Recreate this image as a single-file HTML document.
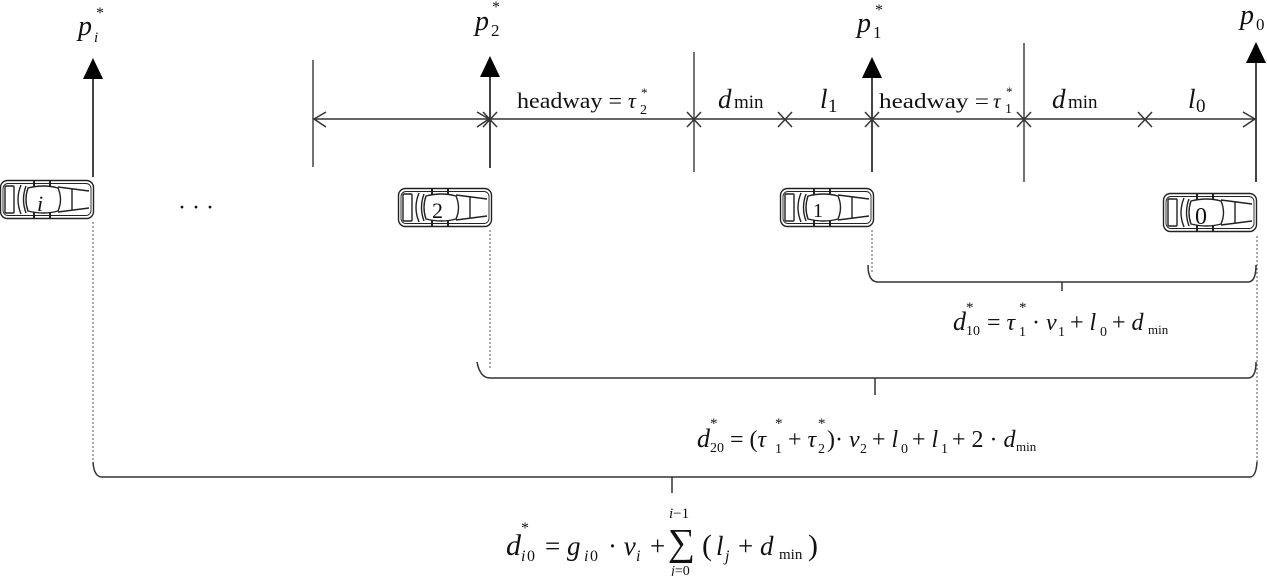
<!DOCTYPE html>
<html><head><meta charset="utf-8"><style>
html,body{margin:0;padding:0;background:#fff;}
svg{display:block;}
text{font-family:"Liberation Serif",serif;fill:#111;}
.it{font-style:italic;}
</style></head><body>
<svg width="1267" height="576" viewBox="0 0 1267 576" xmlns="http://www.w3.org/2000/svg">
<defs>
<g id="car" fill="none" stroke="#222" stroke-width="1.4">
  <rect x="0.5" y="0.5" width="93" height="38" rx="7"/>
  <rect x="3" y="3.5" width="88" height="32" rx="5" stroke-width="0.9"/>
  <rect x="5" y="6" width="9" height="27" rx="1"/>
  <path d="M21 5 Q15 19.5 21 34"/>
  <path d="M26 6 Q21 19.5 26 33"/>
  <path d="M28 8 Q44 4 58 8 Q63 19.5 58 31 Q44 35 28 31 Q24 19.5 28 8Z"/>
  <path d="M58 7 L89 11 M58 32 L89 28 M72 9 L72 30"/>
  <path d="M34 1 L34 7 M50 1 L50 7 M34 32 L34 38 M50 32 L50 38" stroke-width="2"/>
</g>
</defs>

<g stroke="#444" stroke-width="2" fill="none">
  <line x1="93" y1="78" x2="93" y2="177"/>
  <line x1="490" y1="76" x2="490" y2="168"/>
  <line x1="872" y1="76" x2="872" y2="172"/>
  <line x1="1256" y1="62" x2="1256" y2="182"/>
</g>
<g fill="#000">
  <polygon points="93,58 83,79 103,79"/>
  <polygon points="490,56 480,77 500,77"/>
  <polygon points="872,57 862,78 882,78"/>
  <polygon points="1256,42 1246,63 1266,63"/>
</g>

<g stroke="#444" stroke-width="1.5">
  <line x1="313" y1="60" x2="313" y2="167"/>
  <line x1="694" y1="52" x2="694" y2="172"/>
  <line x1="1024" y1="43" x2="1024" y2="182"/>
</g>

<g stroke="#333" stroke-width="1.5" fill="none">
  <line x1="313" y1="119" x2="1256" y2="119"/>
  <path d="M326 112 L314 119 L326 127"/>
  <path d="M477 112 L489 119 L477 127"/>
  <path d="M1243 112 L1255 119 L1243 127"/>
  <path d="M483 112 L497 127 M497 112 L483 127"/>
  <path d="M687 112 L701 127 M701 112 L687 127"/>
  <path d="M778 112 L792 127 M792 112 L778 127"/>
  <path d="M865 112 L879 127 M879 112 L865 127"/>
  <path d="M1017 112 L1031 127 M1031 112 L1017 127"/>
  <path d="M1138 112 L1152 127 M1152 112 L1138 127"/>
</g>

<text x="78" y="35" font-size="28" class="it">p</text><text x="94" y="42" font-size="15" class="it">i</text><text x="96" y="18" font-size="16">*</text>
<text x="475" y="30" font-size="28" class="it">p</text><text x="491" y="36" font-size="17">2</text><text x="492" y="12" font-size="16">*</text>
<text x="857" y="32" font-size="28" class="it">p</text><text x="873" y="38" font-size="17">1</text><text x="875" y="15" font-size="16">*</text>
<text x="1240" y="24" font-size="28" class="it">p</text><text x="1256" y="30" font-size="17">0</text>

<text x="517" y="108" font-size="22" textLength="105" lengthAdjust="spacingAndGlyphs">headway =</text>
<text x="628" y="108" font-size="22" class="it">τ</text><text x="640" y="114" font-size="14">2</text><text x="641" y="97" font-size="13">*</text>
<text x="718" y="108" font-size="27" class="it">d</text><text x="734" y="108" font-size="19">min</text>
<text x="820" y="108" font-size="27" class="it">l</text><text x="828" y="112" font-size="19">1</text>
<text x="879" y="108" font-size="21" textLength="110" lengthAdjust="spacingAndGlyphs">headway =</text>
<text x="993" y="108" font-size="21" class="it">τ</text><text x="1005" y="113" font-size="14">1</text><text x="1006" y="96" font-size="13">*</text>
<text x="1052" y="108" font-size="27" class="it">d</text><text x="1068" y="108" font-size="19">min</text>
<text x="1188" y="108" font-size="27" class="it">l</text><text x="1196" y="112" font-size="19">0</text>

<use href="#car" transform="translate(0,180)"/>
<use href="#car" transform="translate(398,188)"/>
<use href="#car" transform="translate(780,188)"/>
<use href="#car" transform="translate(1163,193)"/>
<text x="37" y="211" font-size="22" class="it" fill="#124">i</text>
<text x="432" y="218" font-size="22">2</text>
<text x="813" y="217" font-size="20">1</text>
<text x="1195" y="224" font-size="24">0</text>
<text x="178" y="215" font-size="24">· · ·</text>

<g stroke="#555" stroke-width="1" stroke-dasharray="2,2">
  <line x1="93" y1="222" x2="93" y2="465"/>
  <line x1="490" y1="230" x2="490" y2="368"/>
  <line x1="872" y1="230" x2="872" y2="272"/>
  <line x1="1257" y1="236" x2="1257" y2="465"/>
</g>

<g stroke="#333" stroke-width="1.5" fill="none">
  <path d="M868 265 Q868 282 878 282 L1248 282 Q1256 282 1256 265"/>
  <line x1="1062" y1="282" x2="1062" y2="291"/>
  <path d="M477 362 Q480 378 490 378 L1248 378 Q1256 378 1256 362"/>
  <line x1="875" y1="378" x2="875" y2="395"/>
  <path d="M93 462 Q94 477 102 477 L1250 477 Q1256 477 1257 462"/>
  <line x1="672" y1="477" x2="672" y2="493"/>
</g>

<text x="953" y="330" font-size="26" class="it">d</text><text x="966" y="312" font-size="15">*</text><text x="966" y="335" font-size="14">10</text>
<text x="987" y="330" font-size="24">= <tspan class="it">τ</tspan></text><text x="1019" y="336" font-size="14">1</text><text x="1019" y="312" font-size="15">*</text>
<text x="1032" y="330" font-size="24">· <tspan class="it">v</tspan></text><text x="1058" y="336" font-size="14">1</text>
<text x="1070" y="330" font-size="24">+ <tspan class="it">l</tspan></text><text x="1100" y="336" font-size="14">0</text>
<text x="1112" y="330" font-size="24">+ <tspan class="it">d</tspan></text><text x="1148" y="334" font-size="13">min</text>

<g transform="translate(90,0)">
<text x="607" y="447" font-size="26" class="it">d</text><text x="620" y="428" font-size="15">*</text><text x="620" y="452" font-size="14">20</text>
<text x="640" y="447" font-size="24">= (<tspan class="it">τ</tspan></text><text x="685" y="453" font-size="14">1</text><text x="685" y="428" font-size="15">*</text>
<text x="698" y="447" font-size="24">+ <tspan class="it">τ</tspan></text><text x="728" y="453" font-size="14">2</text><text x="728" y="428" font-size="15">*</text>
<text x="737" y="447" font-size="24">)· <tspan class="it">v</tspan></text><text x="770" y="453" font-size="14">2</text>
<text x="782" y="447" font-size="24">+ <tspan class="it">l</tspan></text><text x="811" y="453" font-size="14">0</text>
<text x="822" y="447" font-size="24">+ <tspan class="it">l</tspan></text><text x="851" y="453" font-size="14">1</text>
<text x="862" y="447" font-size="24">+ 2 · <tspan class="it">d</tspan></text><text x="926" y="451" font-size="13">min</text>
</g>

<text x="506" y="555" font-size="30" class="it">d</text><text x="521" y="533" font-size="16">*</text><text x="521" y="561" font-size="16" class="it">i</text><text x="527" y="561" font-size="16">0</text>
<text x="545" y="555" font-size="27">= <tspan class="it">g</tspan></text><text x="584" y="561" font-size="16" class="it">i</text><text x="590" y="561" font-size="16">0</text>
<text x="608" y="555" font-size="27">· <tspan class="it">v</tspan></text><text x="636" y="561" font-size="16" class="it">i</text>
<text x="650" y="555" font-size="27">+</text>
<text x="668" y="555" font-size="38">∑</text>
<text x="669" y="518" font-size="15"><tspan class="it">i</tspan>−1</text>
<text x="671" y="575" font-size="14"><tspan class="it">j</tspan>=0</text>
<text x="702" y="555" font-size="30">(</text>
<text x="716" y="555" font-size="27" class="it">l</text><text x="725" y="561" font-size="16" class="it">j</text>
<text x="738" y="555" font-size="27">+ <tspan class="it">d</tspan></text><text x="779" y="559" font-size="15">min</text>
<text x="808" y="555" font-size="30">)</text>
</svg>
</body></html>
